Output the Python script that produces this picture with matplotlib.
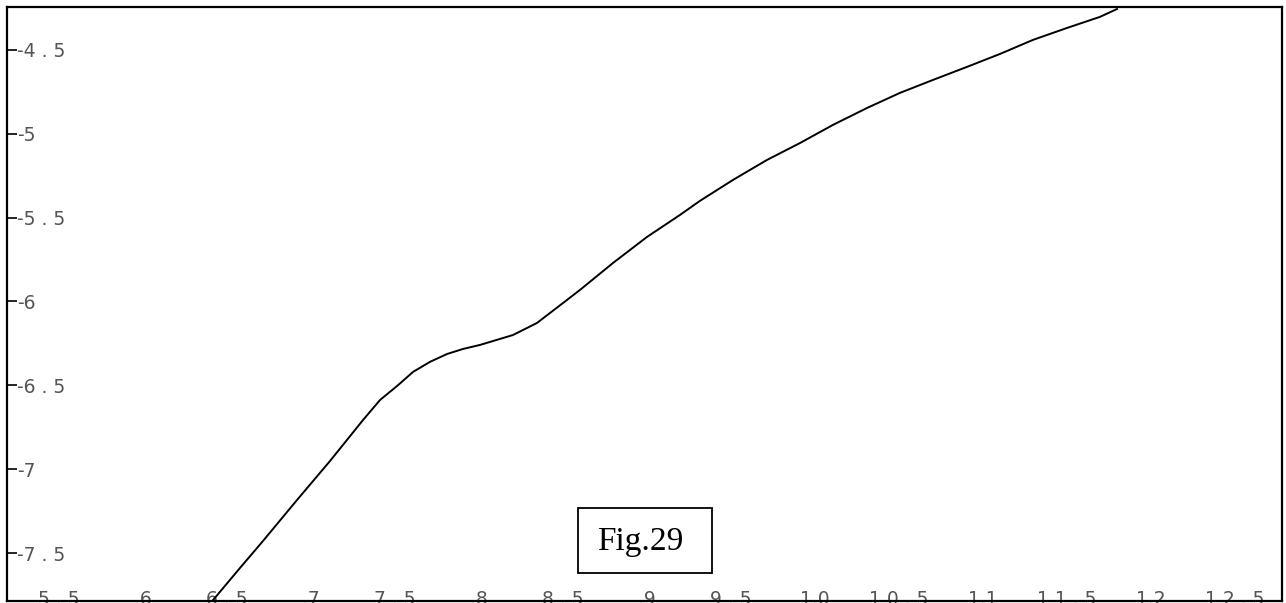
import matplotlib
matplotlib.use("Agg")
import matplotlib.pyplot as plt
from matplotlib.patches import Rectangle

# curve
curve_x = [6.417, 6.577, 6.714, 6.917, 7.113, 7.310, 7.411, 7.512, 7.607,
           7.708, 7.810, 7.905, 8.006, 8.202, 8.345, 8.500, 8.601, 8.798,
           9.000, 9.196, 9.315, 9.512, 9.714, 9.911, 10.107, 10.310, 10.506,
           10.702, 10.905, 11.101, 11.298, 11.500, 11.696, 11.798]
curve_y = [-7.780, -7.589, -7.428, -7.183, -6.951, -6.706, -6.587, -6.504,
           -6.420, -6.360, -6.313, -6.283, -6.259, -6.200, -6.128, -6.009,
           -5.931, -5.770, -5.615, -5.484, -5.400, -5.275, -5.156, -5.055,
           -4.947, -4.846, -4.756, -4.679, -4.601, -4.524, -4.440, -4.369,
           -4.303, -4.256]

x_ticks = [5.5, 6.0, 6.5, 7.0, 7.5, 8.0, 8.5, 9.0, 9.5, 10.0, 10.5, 11.0,
           11.5, 12.0, 12.5]
x_labels = ["5 . 5", ".6", "6 . 5", ".7", "7 . 5", ".8", "8 . 5", ".9",
            "9 . 5", "1.0", "1 0 . 5", "1.1", "1 1 . 5", "1.2", "1 2 . 5"]
y_ticks = [-4.5, -5.0, -5.5, -6.0, -6.5, -7.0, -7.5]
y_labels = ["-4 . 5", "-5", "-5 . 5", "-6", "-6 . 5", "-7", "-7 . 5"]

fig = plt.figure(figsize=(12.86, 6.03), dpi=100)
ax = fig.add_axes([7 / 1286, 2 / 603, 1275 / 1286, 594 / 603])

ax.plot(curve_x, curve_y, color="black", linewidth=1.4,
        solid_joinstyle="round")

ax.set_xlim(5.19, 12.78)
ax.set_ylim(-7.786, -4.244)

for sp in ax.spines.values():
    sp.set_linewidth(1.6)

ax.set_yticks(y_ticks)
ax.set_yticklabels(y_labels, fontsize=13.5, color="#555555")
ax.tick_params(axis="y", direction="in", length=7, width=1.2, pad=-7.5)
for lbl in ax.get_yticklabels():
    lbl.set_horizontalalignment("left")

ax.set_xticks(x_ticks)
ax.set_xticklabels(x_labels, fontsize=13.5, color="#555555")
ax.tick_params(axis="x", direction="in", length=0, pad=-8)

# figure label box
ax.add_patch(Rectangle((0.4478, 0.0471), 0.1051, 0.1094,
                       transform=ax.transAxes, fill=False,
                       edgecolor="black", linewidth=1.3))
ax.text(0.4965, 0.0859, "Fig.29", transform=ax.transAxes,
        ha="center", va="baseline", fontsize=24,
        family="Liberation Serif", color="black")

fig.savefig("out.png", dpi=100)
